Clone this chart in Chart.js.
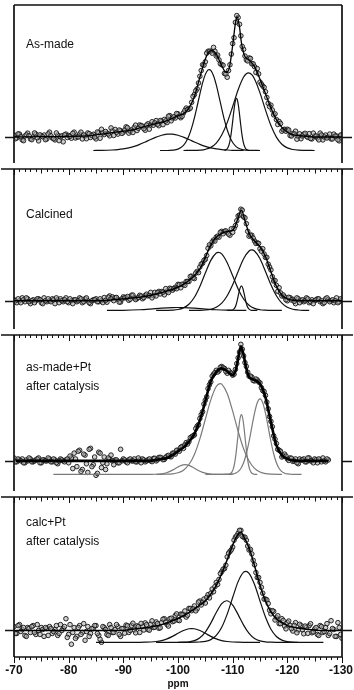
<!DOCTYPE html>
<html>
<head>
<meta charset="utf-8">
<script src="https://cdn.jsdelivr.net/npm/chart.js@4.4.1/dist/chart.umd.min.js"></script>
<style>
  html, body { margin: 0; padding: 0; background: #fff; }
  #figure { position: relative; width: 354px; height: 690px; overflow: hidden; background: #fff; }
  #figure canvas { position: absolute; left: 0; }
</style>
</head>
<body>
<div id="figure">
  <canvas id="p1" width="354" height="168" style="top:0px"></canvas>
  <canvas id="p2" width="354" height="170" style="top:164px"></canvas>
  <canvas id="p3" width="354" height="166" style="top:330px"></canvas>
  <canvas id="p4" width="354" height="198" style="top:492px"></canvas>
</div>
<script>
// 29Si NMR spectra, chemical shift in ppm, intensities in arbitrary units
const tickValues = [-70, -80, -90, -100, -110, -120, -130];
const panelLabels = [
  ["As-made"],
  ["Calcined"],
  ["as-made+Pt", "after catalysis"],
  ["calc+Pt", "after catalysis"],
];

// measured points: one set on whole/half ppm, a second set in between
const ppmGrid = Array.from({ length: 121 }, (_, i) => -70 - i * 0.5);
const ppmGridB = Array.from({ length: 120 }, (_, i) => -70.25 - i * 0.5);

const asMadeData = [
  2, -1, 3, -3, 1, 4, -2, 0, 3, -4, 1, 2, -2, 5, -1, -3, 2, 0, -5, 3,
  1.5, -1.3, 5, 0, 3, -2, 1, 4.2, -0.5, 2.8, -2, 4.5, 8, 2.5, 4, 1.2, 6.5, 7.8, 3, 6.5,
  5, 10.5, 4, 7.5, 10, 6.7, 12.5, 11.2, 7, 13.7, 12.5, 12.2, 17, 11.7, 16.5, 18.2, 15, 22.2, 19.5, 19.7,
  24, 20, 25, 30, 29, 36, 44, 50, 63, 75, 78, 89, 89, 93, 84, 80, 75, 66, 62, 75,
  97, 119, 124, 105, 91, 80, 82, 76, 73, 71, 57, 53, 47, 35, 33, 23, 18, 16, 6, 8,
  8, 1.5, 3.5, 6, 0.5, -1.8, 3, 0.7, 3.5, -2, 1, -1, 4, -3, 2, 0, -2, 3, 1, -4, 2,
];
const asMadeDataB = [
  -1.8, 3.2, 0.2, -3.8, 2.2, 1.2, -2.8, 4.2, -0.8, 2.2, 0.2, -2.8, 3.2, 1.2, -1.8, 4.2, -3.8, 1.2, 2.2, -0.5,
  0.6, 3.8, -1, 0, 5, 2.1, -1.8, 3.4, 1.6, -0.1, 5.2, -1.3, 4.2, 5.7, 3.1, 9.4, 1.6, 4.9, 7.2, 3.7,
  7.2, 9.7, 6.2, 4.7, 12.3, 9.1, 11.8, 8.6, 12.3, 8.1, 15.8, 14.6, 13.3, 17.1, 12.8, 16.6, 21.6, 16.8, 21, 24.3,
  21.5, 21.5, 27.5, 28.5, 30, 42, 48, 56, 69, 74.5, 87, 89, 87, 89, 85, 76, 74.5, 65.5, 69, 86,
  103, 126, 117, 94, 84, 79, 81.5, 76, 67, 65.5, 55, 51.5, 41, 31.5, 28, 24, 13, 14, 7.5, 6,
  7.2, 1, 3.2, -2.3, 3.3, 1.1, 3.8, -0.4, -1.6, 4, 1, -3, 2, 0, -1, 3, -2, 1, -3, 2,
];
const calcinedData = [
  1, -2, 0, 3, -1, 2, -3, 1, 0, 2, -2, 3, -1, 0, 2, -3, 1, 2, -1, 3,
  -2, 0, 1, -1, 3, -2, 2, 0, -3, 1, 2, -1, 0, 3.3, -1.5, 5, 4, 3.2, 1.5, -1.3,
  4, 3.2, 0.5, 5.7, 3, 2.3, 5.7, 2.1, 5.5, 5.1, 8.7, 5.3, 5, 9.7, 9.5, 6.2, 10, 13, 11, 14,
  17, 13.5, 17, 20, 20, 25.5, 23, 30.5, 35, 39, 43, 54.5, 57, 63, 66, 66, 72, 72, 71, 68,
  71, 78, 88, 95, 87, 80, 67, 68, 62, 60, 54, 54, 45, 38, 32, 20.5, 16, 13.5, 5, 4,
  0, 3.2, 1.5, -3, 2, 0, -1, 3, -2, 1, 0, 2, -1, -3, 2, 1, 0, -2, 3, -1, 1,
];
const calcinedDataB = [
  0, 2, -2, 1, 3, -1, 0, -2, 2, 1, -3, 0, 2, -1, 1, 3, -2, 0, 1, -1,
  2, -3, 1, 0, 2, -1, 3, -2, 0, 1, -1, 2, -1.9, 0.4, 3.7, 1.9, 0.1, 3.4, -1.4, 1.9,
  3.1, 4.4, 1.6, 5.9, 1.2, 3.5, 4.9, 3.3, 6.8, 5.4, 3, 8.7, 8.4, 7.1, 8.9, 12.6, 8.5, 12.5, 12.5, 12.5,
  16.7, 17.2, 16, 20, 25.2, 23.7, 28.7, 29.2, 38, 42, 47, 58, 61, 62, 67, 71, 69.5, 72.5, 69.2, 74.7,
  75, 83, 89, 94, 86, 72, 68, 65, 59.5, 59.5, 51.5, 48.5, 45, 35, 25, 21, 9.8, 8.2, 6, 1,
  3.6, 0.8, -0.6, 3, -2, 1, 0, 2, -1, -3, 1, 2, 0, -2, 3, -1, 1, 0, -2, 2,
];
const asMadePtData = [
  3, -1, 1, 2, -2, 0, 2, -1, 1, 3, -2, 1, 0, 2, -1, 1, -3, 2, 0, 1,
  -2, 3, 8, -6, 11, -9, 6, -12, 13, -4, -15, 9, -7, 4, -3, 2, 0, 1, -2, 12,
  2, -1, 1, 0, 2, -1, 1, 2, -1, 1, 0, 2.5, 0, 3.5, 3, 1.5, 5, 4.5, 8, 7,
  11, 14, 13, 19, 20, 25, 27, 36, 44, 51, 63, 75, 82, 90, 94, 93.5, 98, 96, 91, 92,
  89, 95, 107, 121, 109, 98, 88, 87, 83, 84, 81, 73, 68, 54, 41, 26, 18, 11, 4, 7,
  2, 3, -0.5, 2, -3, 1, 2, -1, 3, 0, 2, -2, 1, 3, -1, 1,
];
const asMadePtDataB = [
  -1, 2, 0, -2, 1, 3, -1, 0, 2, -2, 1, 0, 3, -1, 2, -2, 0, 1, -1, 2,
  5, -8, 2, 10, -11, 7, -3, 12, -6, 4, -13, 8, -2, -9, 3, 6, -4, 1, -2, 0,
  1, -2, 2, 0, -1, 3, -2, 1, 0, 2, -0.8, 2.7, 1.2, 3.7, 1.2, 3.7, 5.7, 4.2, 8, 11,
  10, 15, 16.5, 17.5, 24, 26, 33.5, 37.5, 48, 59, 66.5, 79, 88, 91.5, 92.2, 97.2, 96.5, 93, 94, 91,
  90, 101, 113, 116, 102, 92, 88, 83.5, 85, 82, 76, 72, 61, 46, 35.5, 22.5, 12, 10, 5, 5,
  0.5, 2.7, 0, -2, 2, 1, -1, 3, 0, -2, 1, 2, -1, 0, 2,
];
const calcPtData = [
  4, -3, 6, 1, -5, 3, -2, 5, -4, 0, 3, -6, 2, 4, -3, 1, -5, 6, 2, 12,
  -4, -14, 3, -6, 5, -2, -10, 4, -3, 2, 5, -5, -12, 3, -4, 6, -2, 1, 4, -6,
  2, 5.5, -2, 5.2, 0.5, 4.7, -2, 4.3, 7.7, 1.1, 6.5, 3.1, 8.7, 2.3, 8, 12, 6, 12, 9, 15.2,
  10.5, 16.7, 16, 13.7, 22.5, 20.2, 25, 22, 30, 29, 28, 36.5, 38, 39.5, 49, 52, 60, 63, 75, 80.5,
  85, 95, 99, 102, 95, 92, 82, 78, 67, 54, 49, 38, 32, 27.5, 17, 19.5, 13, 7, 12, 4.5,
  8, 5.2, -0.5, 8, 0.5, 5.1, -3.3, 3.3, 5, -2.3, 1.5, -4, 5, -2, 3, -5, 10, 1, -6, 3, -8,
];
const calcPtDataB = [
  -3, 5, -1, 3, -6, 2, 4, -2, 6, -4, 1, 3, -5, 2, -1, 5, -3, 0, 4, -7,
  6, -2, -8, 3, -4, 7, -1, -6, 2, 5, -3, -9, 4, 1, -5, 3, -2, 6, -4, 2,
  -2.7, 4.8, 0.1, 7.4, -2.4, 3.9, 7.2, 0.5, 5.9, 0.3, 9.8, 3.4, 7, 2.7, 11.5, 8.5, 4.5, 12.5, 9.6, 16.9,
  10.1, 16.4, 19.9, 15.6, 22.4, 22.1, 20, 29, 26, 32, 33.7, 33.2, 42.2, 44.7, 47, 58, 62.5, 66.5, 78.7, 82.2,
  92, 96.5, 102, 96, 95, 86, 82.5, 71.5, 59, 54, 44, 32, 31.2, 20.7, 20.2, 10.7, 15, 7, 10.2, 1.7,
  9.6, 1.9, 5.2, -2.3, 6.3, 0.9, 4.5, -2.9, 6.9, -1.4, 3, -5, 4, -1, 7, -3, 2, -6, 8, -4,
];

// fitted envelopes [ppm, intensity]
const asMadeFit = [[-70,0],[-75,0.3],[-80,0.5],[-84,1.5],[-86,3],[-88,4.5],[-90,6],[-92,8],[-94,11],[-96,14],[-98,17],[-100,22],[-101,24],[-102,30],[-103,42],[-104,62],[-105,81],[-105.6,88],[-106.2,90],[-107,86],[-108,74],[-108.8,67],[-109.4,72],[-110,95],[-110.5,118],[-110.8,125],[-111.2,116],[-111.6,98],[-112.2,84],[-113,80],[-114,73],[-115,60],[-116,45],[-117,30],[-118,18],[-119,10],[-120,5],[-121,2.5],[-123,1],[-125,0],[-130,0]];
const calcinedFit = [[-70,0],[-86,0],[-88,1],[-90,2],[-92,3],[-94,4.5],[-96,7],[-98,10],[-100,14],[-101,17],[-102,21],[-103,26],[-104,33],[-105,45],[-106,58],[-107,66],[-108,70],[-109,72],[-110,73],[-110.5,78],[-111,86],[-111.6,94],[-112.2,84],[-113,70],[-114,62],[-115,56],[-116,46],[-117,30],[-118,15],[-119,6],[-120,2],[-121,0.5],[-122,0],[-130,0]];
const asMadePtFit = [[-70.3,0],[-95,0],[-96,1],[-97,2],[-98,3],[-99,6],[-100,10],[-101,14],[-102,20],[-103,28],[-104,42],[-105,62],[-106,83],[-107,92],[-108,96],[-109,93],[-110,89],[-110.6,95],[-111,106],[-111.5,119],[-112,110],[-112.5,96],[-113,87],[-114,84],[-115,80],[-116,66],[-117,40],[-118,16],[-119,6],[-120,2],[-121,0.5],[-122,0],[-127.5,0]];
const calcPtFit = [[-70,0],[-90,0],[-91,1],[-93,2],[-95,3.5],[-97,6],[-99,10],[-101,15],[-103,22],[-104,26],[-105,30],[-106,37],[-107,46],[-108,58],[-109,72],[-110,87],[-111,98],[-111.5,100],[-112,96],[-113,84],[-114,66],[-115,46],[-116,30],[-117,19],[-118,12],[-119,8],[-120,5],[-122,2.5],[-124,1],[-126,0],[-130,0]];

// deconvoluted components, drawn below the spectrum [ppm, intensity]
const asMadeComp1 = [[-84.5,-14],[-86,-13.9],[-88,-13.5],[-89,-13.1],[-90,-12.4],[-91,-11.3],[-92,-9.8],[-93,-7.7],[-94,-5.2],[-95,-2.6],[-96,-0.2],[-97,1.8],[-98,2.9],[-98.5,3],[-99,2.9],[-100,1.8],[-101,-0.2],[-102,-2.6],[-103,-5.2],[-104,-7.7],[-105,-9.8],[-106,-11.3],[-107,-12.4],[-108,-13.1],[-109,-13.5],[-110,-13.8],[-112,-14]];
const asMadeComp2 = [[-96.7,-14],[-98,-14],[-99,-13.7],[-100,-12.6],[-101,-8.7],[-101.5,-4.7],[-102,1.2],[-102.5,9.4],[-103,19.8],[-103.5,31.9],[-104,44.5],[-104.5,56.2],[-105,65],[-105.5,69.6],[-105.7,70],[-106,69.1],[-106.5,63.5],[-107,54],[-107.5,42],[-108,29.4],[-108.5,17.5],[-109,7.5],[-109.5,-0.2],[-110,-5.7],[-110.5,-9.3],[-111,-11.5],[-112,-13.4],[-113,-13.9],[-115,-14]];
const asMadeComp3 = [[-108.5,-14],[-108.7,-13.5],[-108.95,-12.6],[-109.2,-10.2],[-109.45,-5.5],[-109.7,2.5],[-109.95,13.7],[-110.2,26.2],[-110.45,36.2],[-110.7,40],[-110.95,36.2],[-111.2,26.2],[-111.45,13.7],[-111.7,2.5],[-111.95,-5.5],[-112.2,-10.2],[-112.45,-12.6],[-112.7,-13.5],[-113,-14]];
const asMadeComp4 = [[-101,-14],[-103,-13.9],[-104,-13.6],[-105,-12.8],[-106,-10.8],[-107,-6.3],[-108,2],[-109,14.9],[-110,31.6],[-111,49.1],[-112,62.3],[-112.5,65.7],[-112.9,66.6],[-113.5,64.7],[-114,60.2],[-115,45.8],[-116,28.1],[-117,11.9],[-118,-0.1],[-119,-7.5],[-120,-11.3],[-121,-13],[-122,-13.7],[-123,-13.9],[-125,-14]];

const calcinedComp1 = [[-87,-10],[-90,-9.9],[-93,-9.35],[-95,-8.6],[-97,-7.7],[-99,-7.1],[-100,-7],[-101,-7.1],[-103,-7.7],[-105,-8.6],[-107,-9.35],[-109,-9.75],[-111,-9.95],[-112.5,-10]];
const calcinedComp2 = [[-96,-10],[-98,-9.9],[-99,-9.7],[-100,-9.1],[-101,-7.4],[-102,-3.6],[-103,3.6],[-104,14.8],[-105,28.7],[-106,41.9],[-107,49.6],[-107.4,50.3],[-108,48.7],[-109,39.5],[-110,25.9],[-111,12.3],[-112,1.8],[-113,-4.6],[-114,-7.9],[-115,-9.3],[-116,-9.8],[-117,-10],[-119,-10]];
const calcinedComp3 = [[-109,-10],[-109.6,-10],[-109.85,-9.8],[-110.1,-9.2],[-110.35,-7.7],[-110.6,-4.6],[-110.85,0.7],[-111.1,7.3],[-111.35,13.1],[-111.6,15.4],[-111.85,13.1],[-112.1,7.3],[-112.35,0.7],[-112.6,-4.6],[-112.85,-7.7],[-113.1,-9.2],[-113.35,-9.8],[-113.6,-10],[-114.5,-10]];
const calcinedComp4 = [[-102,-10],[-104,-9.9],[-105,-9.6],[-106,-8.8],[-107,-6.7],[-108,-2.5],[-109,5.2],[-110,16.6],[-111,30.4],[-112,43.5],[-113,51.6],[-113.5,52.7],[-114,51.6],[-115,43.5],[-116,30.4],[-117,16.6],[-118,5.2],[-119,-2.5],[-120,-6.7],[-121,-8.8],[-122,-9.6],[-123,-9.9],[-124,-10]];

const asMadePtComp1 = [[-77.2,-14],[-95,-14],[-96,-13.9],[-97,-13.4],[-98,-12.1],[-99,-9.6],[-100,-6.3],[-100.5,-4.9],[-101.3,-4],[-102,-4.7],[-103,-7.6],[-104,-10.75],[-105,-12.8],[-106,-13.7],[-107,-14],[-110,-14]];
const asMadePtComp2 = [[-96,-14],[-98,-13.85],[-99,-13.5],[-100,-12.4],[-101,-9.7],[-102,-3.8],[-103,6.7],[-104,22.9],[-105,43.2],[-106,63.3],[-107,77.2],[-107.7,80.3],[-108,79.7],[-109,69.9],[-110,51.6],[-111,30.7],[-112,12.5],[-113,-0.2],[-114,-7.8],[-115,-11.5],[-116,-13.2],[-117,-13.8],[-119,-14]];
const asMadePtComp3 = [[-108.5,-14],[-109.1,-14],[-109.35,-13.7],[-109.6,-13.2],[-109.85,-11.7],[-110.1,-8.6],[-110.35,-2.6],[-110.6,7],[-110.85,19.8],[-111.1,33.3],[-111.35,44],[-111.6,48],[-111.85,44],[-112.1,33.3],[-112.35,19.8],[-112.6,7],[-112.85,-2.6],[-113.1,-8.6],[-113.35,-11.7],[-113.6,-13.2],[-113.85,-13.7],[-114.1,-14],[-114.5,-14]];
const asMadePtComp4 = [[-105,-14],[-109,-14],[-109.5,-13.85],[-110,-13.6],[-110.5,-12.8],[-111,-11.2],[-111.5,-7.9],[-112,-2],[-112.5,7.4],[-113,20.1],[-113.5,35],[-114,49.6],[-114.5,60.3],[-115,64.3],[-115.5,60.3],[-116,49.6],[-116.5,35],[-117,20.1],[-117.5,7.4],[-118,-2],[-118.5,-7.9],[-119,-11.2],[-119.5,-12.8],[-120,-13.6],[-120.5,-13.85],[-121,-14],[-122.6,-14]];

const calcPtComp1 = [[-85,-12],[-93,-12],[-94,-11.9],[-95,-11.7],[-96,-11.2],[-97,-10.25],[-98,-8.5],[-99,-6],[-100,-2.9],[-101,0],[-102,1.8],[-102.5,2],[-103,1.8],[-104,0],[-105,-2.9],[-106,-6],[-107,-8.5],[-108,-10.25],[-109,-11.2],[-110,-11.7],[-111,-11.9],[-112,-12],[-115,-12]];
const calcPtComp2 = [[-96,-12],[-100,-12],[-101,-11.9],[-102,-11.5],[-103,-10.3],[-104,-7.3],[-105,-1.6],[-106,7.5],[-107,18.3],[-108,27.3],[-108.9,30.3],[-110,25.9],[-111,16.2],[-112,5.5],[-113,-3],[-114,-8.2],[-115,-10.6],[-116,-11.6],[-117,-11.9],[-118,-12],[-122,-12]];
const calcPtComp3 = [[-100,-12],[-102,-12],[-103,-11.9],[-104,-11.7],[-105,-11.1],[-106,-9.3],[-107,-5],[-108,3.3],[-109,16.7],[-110,33.6],[-111,49.8],[-112,59.4],[-112.4,60.3],[-113,58.3],[-114,46.9],[-115,30.1],[-116,13.7],[-117,1.3],[-118,-6.1],[-119,-9.8],[-120,-11.3],[-121,-11.8],[-122,-12],[-126.6,-12]];

// draws the box, the ticks below each axis line, zero marks and texts using the chart scales
const framePlugin = {
  id: "frame",
  afterDraw(chart, args, opts) {
    const ctx = chart.ctx;
    const area = chart.chartArea;
    const xs = chart.scales.x;
    const ys = chart.scales.y;
    ctx.save();
    ctx.strokeStyle = "#111";
    ctx.lineWidth = 1.7;
    ctx.beginPath();
    ctx.moveTo(area.left, area.top);
    ctx.lineTo(area.left, area.bottom);
    ctx.moveTo(area.right, area.top);
    ctx.lineTo(area.right, area.bottom);
    const x0 = opts.separator ? 1 : area.left;
    const x1 = opts.separator ? chart.width - 1 : area.right;
    ctx.moveTo(x0, area.top);
    ctx.lineTo(x1, area.top);
    if (opts.bottomAxis) {
      ctx.moveTo(area.left, area.bottom);
      ctx.lineTo(area.right, area.bottom);
    }
    const y0 = Math.round(ys.getPixelForValue(0)) + 0.5;
    ctx.moveTo(5, y0);
    ctx.lineTo(area.left, y0);
    ctx.moveTo(area.right, y0);
    ctx.lineTo(chart.width - 2, y0);
    ctx.stroke();

    // 1 ppm ticks
    ctx.lineWidth = 1;
    ctx.beginPath();
    const edges = [];
    if (opts.separator) edges.push(area.top);
    if (opts.bottomAxis) edges.push(area.bottom);
    edges.forEach((y) => {
      for (let v = xs.max; v >= xs.min; v--) {
        const px = Math.round(xs.getPixelForValue(v)) + 0.5;
        const len = v % 10 === 0 ? 6 : v % 5 === 0 ? 4.5 : 3;
        ctx.moveTo(px, y);
        ctx.lineTo(px, y + len);
      }
    });
    ctx.stroke();

    // sample label
    ctx.fillStyle = "#111";
    ctx.font = '12px "Liberation Sans", Arial, sans-serif';
    ctx.textBaseline = "middle";
    ctx.textAlign = "left";
    opts.label.forEach((line, i) => {
      ctx.fillText(line, 26, opts.labelY + i * 19);
    });

    // ppm tick labels on the bottom panel
    if (opts.bottomAxis) {
      ctx.font = 'bold 12px "Liberation Sans", Arial, sans-serif';
      ctx.textAlign = "center";
      tickValues.forEach((v) => {
        const text = String(v);
        const w = ctx.measureText(text).width;
        let cx = xs.getPixelForValue(v);
        cx = Math.max(w / 2 + 1, Math.min(chart.width - w / 2 - 1, cx));
        ctx.fillText(text, cx, area.bottom + 14);
      });
      ctx.font = 'bold 10px "Liberation Sans", Arial, sans-serif';
      ctx.fillText("ppm", (area.left + area.right) / 2, area.bottom + 27);
    }
    ctx.restore();
  },
};

function toPoints(pairs) {
  return pairs.map(([x, y]) => ({ x: x, y: y }));
}

function makePanel(id, p) {
  const scatter = p.data.map((y, i) => ({ x: ppmGrid[i], y: y }))
    .concat(p.dataB.map((y, i) => ({ x: ppmGridB[i], y: y })));
  const datasets = [
    {
      data: toPoints(p.fit),
      showLine: true,
      borderColor: "#000",
      borderWidth: p.fitWidth,
      pointRadius: 0,
      cubicInterpolationMode: "monotone",
      order: 0,
    },
  ];
  p.comps.forEach((c) => {
    datasets.push({
      data: toPoints(c),
      showLine: true,
      borderColor: p.compColor,
      borderWidth: 1.2,
      pointRadius: 0,
      cubicInterpolationMode: "monotone",
      order: 1,
    });
  });
  datasets.push({
    data: scatter,
    showLine: false,
    pointRadius: 2.3,
    pointBorderWidth: 1,
    pointBorderColor: "rgba(20,20,20,0.9)",
    pointBackgroundColor: "rgba(165,165,165,0.55)",
    order: 2,
  });

  return new Chart(document.getElementById(id), {
    type: "scatter",
    data: { datasets: datasets },
    options: {
      responsive: false,
      animation: false,
      events: [],
      layout: { padding: p.padding },
      scales: {
        x: { type: "linear", min: -130, max: -70, reverse: true, display: false },
        y: { type: "linear", min: p.yMin, max: p.yMax, display: false },
      },
      plugins: {
        legend: { display: false },
        tooltip: { enabled: false },
        frame: p.frame,
      },
    },
    plugins: [framePlugin],
  });
}

makePanel("p1", {
  data: asMadeData, dataB: asMadeDataB, fit: asMadeFit, fitWidth: 1.3,
  comps: [asMadeComp1, asMadeComp2, asMadeComp3, asMadeComp4], compColor: "#111",
  yMin: -27, yMax: 137,
  padding: { left: 14, right: 12, top: 2, bottom: 2 },
  frame: { separator: false, bottomAxis: false, label: panelLabels[0], labelY: 45 },
});
makePanel("p2", {
  data: calcinedData, dataB: calcinedDataB, fit: calcinedFit, fitWidth: 1.4,
  comps: [calcinedComp1, calcinedComp2, calcinedComp3, calcinedComp4], compColor: "#111",
  yMin: -29.3, yMax: 136.7,
  padding: { left: 14, right: 12, top: 2, bottom: 2 },
  frame: { separator: true, bottomAxis: false, label: panelLabels[1], labelY: 51 },
});
makePanel("p3", {
  data: asMadePtData, dataB: asMadePtDataB, fit: asMadePtFit, fitWidth: 2.6,
  comps: [asMadePtComp1, asMadePtComp2, asMadePtComp3, asMadePtComp4], compColor: "#7a7a7a",
  yMin: -31.3, yMax: 130.7,
  padding: { left: 14, right: 12, top: 2, bottom: 2 },
  frame: { separator: true, bottomAxis: false, label: panelLabels[2], labelY: 38 },
});
makePanel("p4", {
  data: calcPtData, dataB: calcPtDataB, fit: calcPtFit, fitWidth: 1.5,
  comps: [calcPtComp1, calcPtComp2, calcPtComp3], compColor: "#111",
  yMin: -27, yMax: 136,
  padding: { left: 14, right: 12, top: 2, bottom: 33 },
  frame: { separator: true, bottomAxis: true, label: panelLabels[3], labelY: 31 },
});
</script>
</body>
</html>
